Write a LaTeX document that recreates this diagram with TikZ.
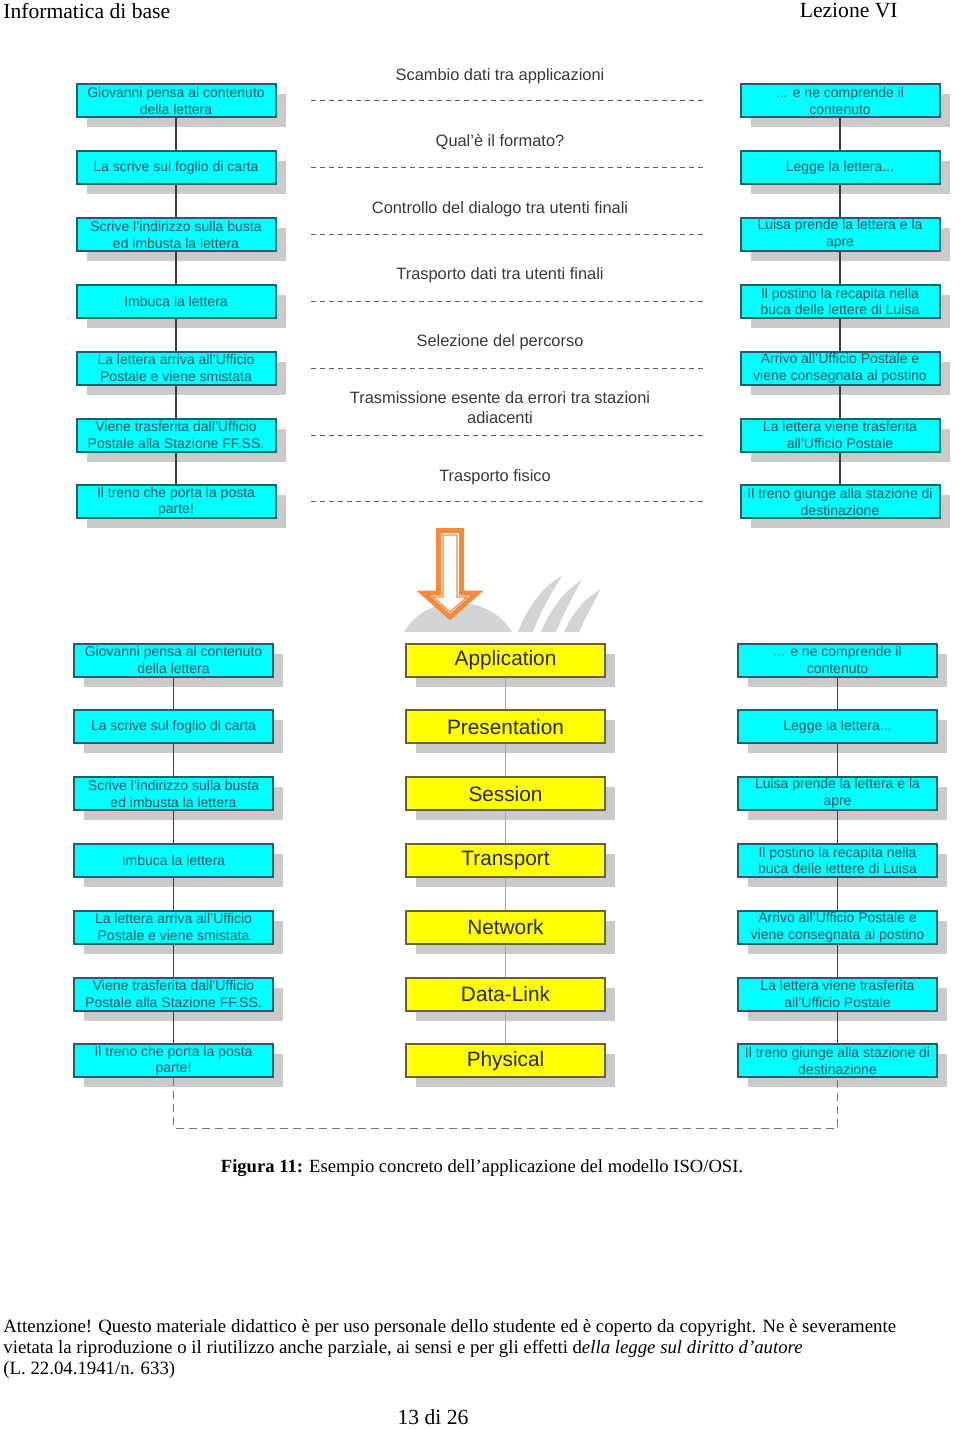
\documentclass[tikz,border=0pt]{standalone}
\usepackage{fontspec}
\setmainfont{Liberation Serif}
\setsansfont{Liberation Sans}
\usetikzlibrary{positioning,shadows}
\definecolor{boxcyan}{RGB}{0,255,255}
\definecolor{cyanedge}{RGB}{28,96,108}
\definecolor{cyantext}{RGB}{40,84,96}
\definecolor{layeryellow}{RGB}{255,255,0}
\definecolor{yellowedge}{RGB}{104,100,36}
\definecolor{layertext}{RGB}{40,40,30}
\definecolor{shadowgray}{RGB}{202,202,202}
\definecolor{linegray}{RGB}{60,60,60}
\definecolor{septext}{RGB}{55,55,55}
\definecolor{arroworange}{RGB}{242,140,60}
\definecolor{logogray}{RGB}{212,212,212}

\begin{document}
\begin{tikzpicture}[x=0.5pt,y=-0.5pt,node distance=15.9pt,
  stepcard/.style={draw=cyanedge,line width=1pt,fill=boxcyan,text=cyantext,
    minimum width=99.5pt,minimum height=16.5pt,inner sep=0pt,align=center,
    font=\sffamily\fontsize{7}{8.4}\selectfont,
    drop shadow={shadow xshift=5pt,shadow yshift=-5pt,fill=shadowgray,opacity=1}},
  osilayer/.style={stepcard,draw=yellowedge,fill=layeryellow,text=layertext,
    font=\sffamily\fontsize{10.4}{12}\selectfont},
  tasklabel/.style={text=septext,align=center,font=\sffamily\fontsize{8.2}{10}\selectfont},
  divider/.style={draw=septext!80,dash pattern=on 2.5pt off 2pt,line width=0.5pt},
  wire/.style={draw=linegray,line width=0.8pt},
  pagetext/.style={inner sep=0pt,font=\fontsize{9.4}{10.5}\selectfont}]
  \useasboundingbox (0,0) rectangle (960,1429);

  \node[pagetext,anchor=west,font=\fontsize{10.8}{12}\selectfont] (H1) at (3,11) {Informatica di base};
  \node[pagetext,anchor=east,font=\fontsize{10.8}{12}\selectfont] (H2) at (898,11) {Lezione VI};

  \node[stepcard] (L1) at (176,101) {Giovanni pensa al contenuto\\della lettera};
  \node[stepcard,below=of L1] (L2) {La scrive sul foglio di carta};
  \node[stepcard,below=of L2] (L3) {Scrive l'indirizzo sulla busta\\ed imbusta la lettera};
  \node[stepcard,below=of L3] (L4) {Imbuca la lettera};
  \node[stepcard,below=of L4] (L5) {La lettera arriva all'Ufficio\\Postale e viene smistata};
  \node[stepcard,below=of L5] (L6) {Viene trasferita dall'Ufficio\\Postale alla Stazione FF.SS.};
  \node[stepcard,below=of L6] (L7) {Il treno che porta la posta\\parte!};

  \node[stepcard,right=231.5pt of L1] (R1) {... e ne comprende il\\contenuto};
  \node[stepcard,below=of R1] (R2) {Legge la lettera...};
  \node[stepcard,below=of R2] (R3) {Luisa prende la lettera e la\\apre};
  \node[stepcard,below=of R3] (R4) {Il postino la recapita nella\\buca delle lettere di Luisa};
  \node[stepcard,below=of R4] (R5) {Arrivo all'Ufficio Postale e\\viene consegnata al postino};
  \node[stepcard,below=of R5] (R6) {La lettera viene trasferita\\all'Ufficio Postale};
  \node[stepcard,below=of R6] (R7) {Il treno giunge alla stazione di\\destinazione};

  \node[tasklabel] (F1) at (500,76) {Scambio dati tra applicazioni};
  \node[tasklabel] (F2) at (500,142) {Qual'è il formato?};
  \node[tasklabel] (F3) at (500,209) {Controllo del dialogo tra utenti finali};
  \node[tasklabel] (F4) at (500,275) {Trasporto dati tra utenti finali};
  \node[tasklabel] (F5) at (500,342) {Selezione del percorso};
  \node[tasklabel] (F6) at (500,408) {Trasmissione esente da errori tra stazioni\\adiacenti};
  \node[tasklabel] (F7) at (495,477) {Trasporto fisico};

  \draw[wire] (L1) -- (L2) -- (L3) -- (L4) -- (L5) -- (L6) -- (L7);
  \draw[wire] (R1) -- (R2) -- (R3) -- (R4) -- (R5) -- (R6) -- (R7);
  \draw[divider] ([xshift=17pt]L1.east) -- ([xshift=-17pt]R1.west);
  \draw[divider] ([xshift=17pt]L2.east) -- ([xshift=-17pt]R2.west);
  \draw[divider] ([xshift=17pt]L3.east) -- ([xshift=-17pt]R3.west);
  \draw[divider] ([xshift=17pt]L4.east) -- ([xshift=-17pt]R4.west);
  \draw[divider] ([xshift=17pt]L5.east) -- ([xshift=-17pt]R5.west);
  \draw[divider] ([xshift=17pt]L6.east) -- ([xshift=-17pt]R6.west);
  \draw[divider] ([xshift=17pt]L7.east) -- ([xshift=-17pt]R7.west);

  \fill[logogray] (404,632) .. controls (415,612) and (440,600) .. (465,603) .. controls (490,606) and (505,620) .. (512,632) -- cycle;
  \fill[logogray] (518,632) .. controls (528,606) and (543,586) .. (562,576) .. controls (552,592) and (540,612) .. (533,632) -- cycle;
  \fill[logogray] (541,632) .. controls (551,608) and (565,590) .. (582,580) .. controls (573,596) and (563,614) .. (556,632) -- cycle;
  \fill[logogray] (564,632) .. controls (573,612) and (585,598) .. (600,590) .. controls (593,604) and (585,618) .. (579,632) -- cycle;
  \draw[arroworange,fill=white,line width=2.5pt,line join=miter] (438.5,530.5) -- (461.5,530.5) -- (461.5,593) -- (477,593) -- (450,617) -- (423,593) -- (438.5,593) -- cycle;
  \draw[arroworange,line width=0.6pt,line join=miter] (443,535) -- (457,535) -- (457,597) -- (467,597) -- (450,612) -- (433,597) -- (443,597) -- cycle;

  \node[stepcard] (BL1) at (173.5,660) {Giovanni pensa al contenuto\\della lettera};
  \node[stepcard,below=of BL1] (BL2) {La scrive sul foglio di carta};
  \node[stepcard,below=of BL2] (BL3) {Scrive l'indirizzo sulla busta\\ed imbusta la lettera};
  \node[stepcard,below=of BL3] (BL4) {Imbuca la lettera};
  \node[stepcard,below=of BL4] (BL5) {La lettera arriva all'Ufficio\\Postale e viene smistata};
  \node[stepcard,below=of BL5] (BL6) {Viene trasferita dall'Ufficio\\Postale alla Stazione FF.SS.};
  \node[stepcard,below=of BL6] (BL7) {Il treno che porta la posta\\parte!};

  \node[osilayer,right=65.5pt of BL1] (S1) {Application};
  \node[osilayer,below=of S1] (S2) {Presentation};
  \node[osilayer,below=of S2] (S3) {Session};
  \node[osilayer,below=of S3] (S4) {Transport};
  \node[osilayer,below=of S4] (S5) {Network};
  \node[osilayer,below=of S5] (S6) {Data-Link};
  \node[osilayer,below=of S6] (S7) {Physical};

  \node[stepcard,right=65.5pt of S1] (BR1) {... e ne comprende il\\contenuto};
  \node[stepcard,below=of BR1] (BR2) {Legge la lettera...};
  \node[stepcard,below=of BR2] (BR3) {Luisa prende la lettera e la\\apre};
  \node[stepcard,below=of BR3] (BR4) {Il postino la recapita nella\\buca delle lettere di Luisa};
  \node[stepcard,below=of BR4] (BR5) {Arrivo all'Ufficio Postale e\\viene consegnata al postino};
  \node[stepcard,below=of BR5] (BR6) {La lettera viene trasferita\\all'Ufficio Postale};
  \node[stepcard,below=of BR6] (BR7) {Il treno giunge alla stazione di\\destinazione};

  \draw[wire] (BL1) -- (BL2) -- (BL3) -- (BL4) -- (BL5) -- (BL6) -- (BL7);
  \draw[draw=gray!70,line width=0.5pt] (S1) -- (S2) -- (S3) -- (S4) -- (S5) -- (S6) -- (S7);
  \draw[wire] (BR1) -- (BR2) -- (BR3) -- (BR4) -- (BR5) -- (BR6) -- (BR7);
  \draw[wire,draw=gray!90!black,dash pattern=on 4pt off 2.5pt] (BL7.south) -- ++(0,-25pt) -| (BR7.south);

  \node[pagetext,font=\fontsize{9.3}{11}\selectfont] (C) at (482,1168) {\textbf{Figura 11:} Esempio concreto dell'applicazione del modello ISO/OSI.};
  \node[pagetext,anchor=west,align=left] (N) at (3,1349) {Attenzione! Questo materiale didattico è per uso personale dello studente ed è coperto da copyright. Ne è severamente\\vietata la riproduzione o il riutilizzo anche parziale, ai sensi e per gli effetti d\textit{ella legge sul diritto d’autore}\\(L. 22.04.1941/n. 633)};
  \node[pagetext,font=\fontsize{10.8}{12}\selectfont] (P) at (433,1417) {13 di 26};
\end{tikzpicture}
\end{document}
